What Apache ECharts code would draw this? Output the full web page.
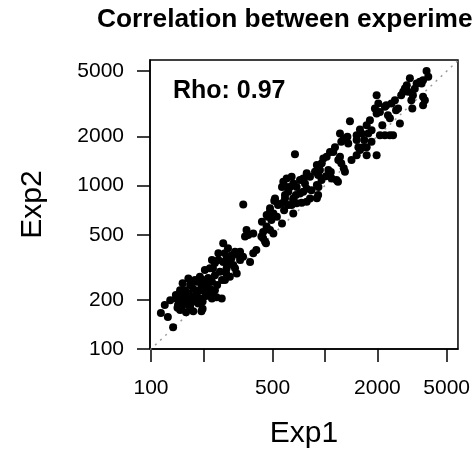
<!DOCTYPE html>
<html><head><meta charset="utf-8">
<script src="https://cdn.jsdelivr.net/npm/echarts@6/dist/echarts.min.js"></script>
<style>html,body{margin:0;padding:0;background:#fff}#c{width:473px;height:460px}</style>
</head><body><div id="c"></div>
<script>
// Exp1 values (x)
const exp1 = [
  114,120,134,144,142,147,
  164,179,191,198,
  152,168,183,195,209,224,
  147,157,164,175,191,204,218,233,
  140,150,160,171,183,195,209,224,238,255,
  143,153,164,175,187,198,
  150,168,175,195,198,
  204,218,233,249,266,284,311,272,297,
  224,244,260,272,290,318,325,338,371,
  244,266,260,304,325,387,
  354,362,387,347,441,462,483,505,458,
  462,483,505,529,511,339,
  576,629,615,718,767,785,750,917,1187,
  589,566,516,657,687,643,734,785,898,657,
  470,492,566,462,441,431,452,
  3833,3921,3660,3509,3362,3590,2950,2878,2815,
  3200,3135,3660,3748,3660,3175,2630,2522,2410,
  2250,2209,1980,2025,1936,2068,1980,1812,1735,
  1852,1773,1391,2360,2694,1588,1623,1520,1219,
  1281,1345,1240,1360,1520,2068,2209,2360,2460,
  1555,1588,1660,1735,1735,1980,1141,1115,1068,
  1022,978,958,898,1219,1192,1240,1281,1302,
  672,935,876,913,1045,1092,1164,785,820,750,
  643,602,566,602,657,687,718,898,913,
  516,589,657,820,
  157,170,184,210,224,240,256,270,227,181,207,
  168,159,154,129,125,139,281,292,233,213,304,
  277,403,434,483,537,582,615,680,836,955,1012,
  1080,1420,1520,1680,1850,2135,2300,2560,2740,
  3000,3280,3074
];
// Exp2 values (y), same order
const exp2 = [
  166,186,136,203,179,173,
  270,264,277,264,
  252,246,258,243,252,258,
  229,225,219,233,229,225,233,229,
  204,214,204,209,214,204,214,204,207,204,
  186,195,186,195,190,195,
  180,176,170,170,176,
  304,312,283,297,264,277,290,312,326,
  350,350,341,359,359,376,350,367,341,
  385,385,443,394,394,385,
  534,498,509,487,476,546,534,509,443,
  659,690,675,645,806,766,
  1053,980,917,1079,1030,955,917,980,1053,
  834,778,808,814,778,759,785,796,836,675,
  645,615,586,561,519,487,454,
  5025,4620,4409,4305,4200,4200,4109,3920,3740,
  3570,3327,3490,3327,3101,2960,2960,3327,3175,
  3101,3030,3570,3175,2960,2820,2755,2511,2340,
  2181,2080,2475,2575,2395,2200,2080,2033,2080,
  1940,1985,1850,1810,1895,2033,2033,2033,2033,
  1715,1646,1715,1715,1534,1534,1715,1605,1605,
  1500,1465,1368,1333,1500,1430,1368,1275,1215,
  1555,1242,1215,1158,1242,1105,1079,1190,1130,1105,
  1130,1105,980,980,1030,980,895,1006,874,
  834,874,834,834,
  229,246,223,236,220,246,264,292,312,199,211,
  186,168,199,199,157,214,340,375,336,272,312,
  413,403,600,727,759,707,759,874,937,1079,1140,
  1210,1430,1534,1895,1850,2340,2694,2890,3570,
  3740,3900,4530
];
const tickValues = [100, 200, 500, 1000, 2000, 5000];
const xLabelValues = [100, 500, 2000, 5000];
const yLabelValues = [100, 200, 500, 1000, 2000, 5000];
const xRange = [98.7, 5808];
const yRange = [100, 5857];
const diagonal = [98.7, 5857];
const titleText = 'Correlation between experiments';
const rhoText = 'Rho: 0.97';
const xName = 'Exp1';
const yName = 'Exp2';

const FONT = "'Liberation Sans', Arial, Helvetica, sans-serif";
const points = exp1.map((v, i) => [v, exp2[i]]);

function axis(range, labels, margin, name, nameGap) {
  return {
    type: 'log', logBase: 10, min: range[0], max: range[1],
    name: name, nameLocation: 'middle', nameGap: nameGap,
    nameTextStyle: { fontFamily: FONT, fontSize: 30, color: '#000' },
    axisLine: { show: true, lineStyle: { color: '#000', width: 1.5 } },
    axisTick: { show: true, inside: false, length: 13, customValues: tickValues,
                lineStyle: { color: '#000', width: 1.5 } },
    axisLabel: { show: true, customValues: labels, margin: margin,
                 fontFamily: FONT, fontSize: 21, color: '#000',
                 formatter: v => String(v) },
    splitLine: { show: false }, minorTick: { show: false }, minorSplitLine: { show: false }
  };
}

const chart = echarts.init(document.getElementById('c'), null, { renderer: 'canvas' });
chart.setOption({
  backgroundColor: '#fff',
  animation: false,
  grid: { left: 150, top: 60, width: 308, height: 289, show: true,
          borderColor: '#000', borderWidth: 1.5, backgroundColor: 'transparent', containLabel: false },
  xAxis: axis(xRange, xLabelValues, 29, xName, 70),
  yAxis: axis(yRange, yLabelValues, 26, yName, 102),
  graphic: [
    { type: 'text', x: 97, y: 20, style: { text: titleText, font: "bold 26.3px " + FONT,
      fill: '#000', textAlign: 'left', textVerticalAlign: 'middle' } },
    { type: 'text', x: 173, y: 91, style: { text: rhoText, font: "bold 25px " + FONT,
      fill: '#000', textAlign: 'left', textVerticalAlign: 'middle' } }
  ],
  series: [
    { type: 'line', data: [[diagonal[0], diagonal[0]], [diagonal[1], diagonal[1]]],
      symbol: 'none', clip: true, silent: true, z: 1,
      lineStyle: { color: '#9a9a9a', width: 1.5, type: [2, 5] } },
    { type: 'scatter', data: points, symbol: 'circle', symbolSize: 8, z: 2,
      itemStyle: { color: '#000', opacity: 1 } }
  ]
});
</script></body></html>
